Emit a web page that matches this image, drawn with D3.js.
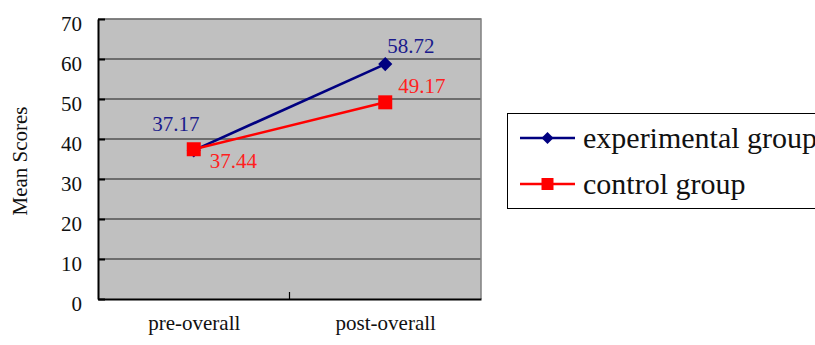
<!DOCTYPE html>
<html>
<head>
<meta charset="utf-8">
<script src="https://cdn.jsdelivr.net/npm/d3@7"></script>
<style>
  html, body { margin: 0; padding: 0; background: #fff; }
</style>
</head>
<body>
<svg id="chart" width="815" height="345"></svg>
<script>
// Mean scores before and after, per group
const categories = ["pre-overall", "post-overall"];
const experimentalValues = [37.17, 58.72];
const controlValues = [37.44, 49.17];
const seriesNames = ["experimental group", "control group"];
const yTicks = [0, 10, 20, 30, 40, 50, 60, 70];
const yLabel = "Mean Scores";

const FONT = '"Liberation Serif", "Times New Roman", serif';

const svg = d3.select("#chart");
const plot = { left: 98, right: 481, top: 19, bottom: 299 };

const x = d3.scalePoint().domain(categories).range([plot.left, plot.right]).padding(0.5);
const y = d3.scaleLinear().domain([0, 70]).range([plot.bottom, plot.top]);

// plot background
svg.append("rect")
  .attr("x", plot.left).attr("y", plot.top)
  .attr("width", plot.right - plot.left).attr("height", plot.bottom - plot.top)
  .attr("fill", "#c0c0c0");

// horizontal gridlines
svg.append("g").selectAll("line").data(yTicks.filter(t => t > 0)).join("line")
  .attr("x1", plot.left).attr("x2", plot.right)
  .attr("y1", d => y(d)).attr("y2", d => y(d))
  .attr("stroke", "#1a1a1a").attr("stroke-width", 1.2);

// right and top frame
svg.append("path")
  .attr("d", `M${plot.left},${plot.top}H${plot.right}V${plot.bottom}`)
  .attr("fill", "none").attr("stroke", "#808080").attr("stroke-width", 1.5);

// y axis
const yAxis = d3.axisLeft(y).tickValues(yTicks).tickSize(0).tickPadding(16);
const gy = svg.append("g").attr("transform", `translate(${plot.left},0)`).call(yAxis);
gy.select(".domain").attr("stroke", "#000").attr("stroke-width", 2);
gy.selectAll(".tick text")
  .style("font-family", FONT).style("font-size", "21px")
  .attr("fill", "#111").attr("dy", "0.55em");
gy.selectAll(".tick").append("line")
  .attr("x1", 0).attr("x2", 7).attr("stroke", "#000").attr("stroke-width", 2);

// x axis
const gx = svg.append("g").attr("transform", `translate(0,${plot.bottom})`)
  .call(d3.axisBottom(x).tickSize(0).tickPadding(16));
gx.select(".domain").attr("stroke", "#000").attr("stroke-width", 2);
gx.selectAll(".tick text")
  .style("font-family", FONT).style("font-size", "21px").attr("fill", "#111");
// category divider tick
svg.append("line")
  .attr("x1", (x(categories[0]) + x(categories[1])) / 2)
  .attr("x2", (x(categories[0]) + x(categories[1])) / 2)
  .attr("y1", plot.bottom - 7).attr("y2", plot.bottom)
  .attr("stroke", "#000").attr("stroke-width", 1.2);

// y axis title
svg.append("text")
  .attr("transform", `translate(27,${(plot.top + plot.bottom) / 2 + 2}) rotate(-90)`)
  .attr("text-anchor", "middle")
  .style("font-family", FONT).style("font-size", "21px").attr("fill", "#111")
  .text(yLabel);

const series = [
  { name: seriesNames[0], values: experimentalValues, color: "#000080", labelColor: "#1a1a8c", diamond: true,
    labelOffsets: [{ dx: -18, dy: -19, anchor: "middle" }, { dx: 2, dy: -11, anchor: "start" }] },
  { name: seriesNames[1], values: controlValues, color: "#ff0000", labelColor: "#ff2020", diamond: false,
    labelOffsets: [{ dx: 16, dy: 19, anchor: "start" }, { dx: 13, dy: -9, anchor: "start" }] }
];

const line = d3.line().x((d, i) => x(categories[i])).y(d => y(d));
const markerPath = (s, big) => d3.symbol().type(d3.symbolSquare)
  .size(s.diamond ? (big ? 100 : 72) : (big ? 196 : 144))();

series.forEach(s => {
  const g = svg.append("g");
  g.append("path").attr("d", line(s.values))
    .attr("fill", "none").attr("stroke", s.color).attr("stroke-width", 2.6);
  g.selectAll("path.mark").data(s.values).join("path").attr("class", "mark")
    .attr("transform", (d, i) => `translate(${x(categories[i])},${y(d)})` + (s.diamond ? " rotate(45)" : ""))
    .attr("d", markerPath(s, true)).attr("fill", s.color);
});

// value labels
series.forEach(s => {
  svg.append("g").selectAll("text").data(s.values).join("text")
    .attr("x", (d, i) => x(categories[i]) + s.labelOffsets[i].dx)
    .attr("y", (d, i) => y(d) + s.labelOffsets[i].dy)
    .attr("text-anchor", (d, i) => s.labelOffsets[i].anchor)
    .style("font-family", FONT).style("font-size", "21px")
    .attr("fill", s.labelColor)
    .text(d => d.toFixed(2));
});

// legend
const legend = svg.append("g");
legend.append("rect")
  .attr("x", 507.5).attr("y", 113.5).attr("width", 330).attr("height", 95)
  .attr("fill", "#fff").attr("stroke", "#000").attr("stroke-width", 1);
const rowY = [138, 184];
series.forEach((s, i) => {
  const r = legend.append("g").attr("transform", `translate(0,${rowY[i]})`);
  r.append("line").attr("x1", 520).attr("x2", 575).attr("y1", 0).attr("y2", 0)
    .attr("stroke", s.color).attr("stroke-width", 2.6);
  r.append("path").attr("transform", "translate(547.5,0)" + (s.diamond ? " rotate(45)" : ""))
    .attr("d", markerPath(s, false))
    .attr("fill", s.color);
  r.append("text").attr("x", 583).attr("y", 10)
    .style("font-family", FONT).style("font-size", "30px").attr("fill", "#111").text(s.name);
});
</script>
</body>
</html>
